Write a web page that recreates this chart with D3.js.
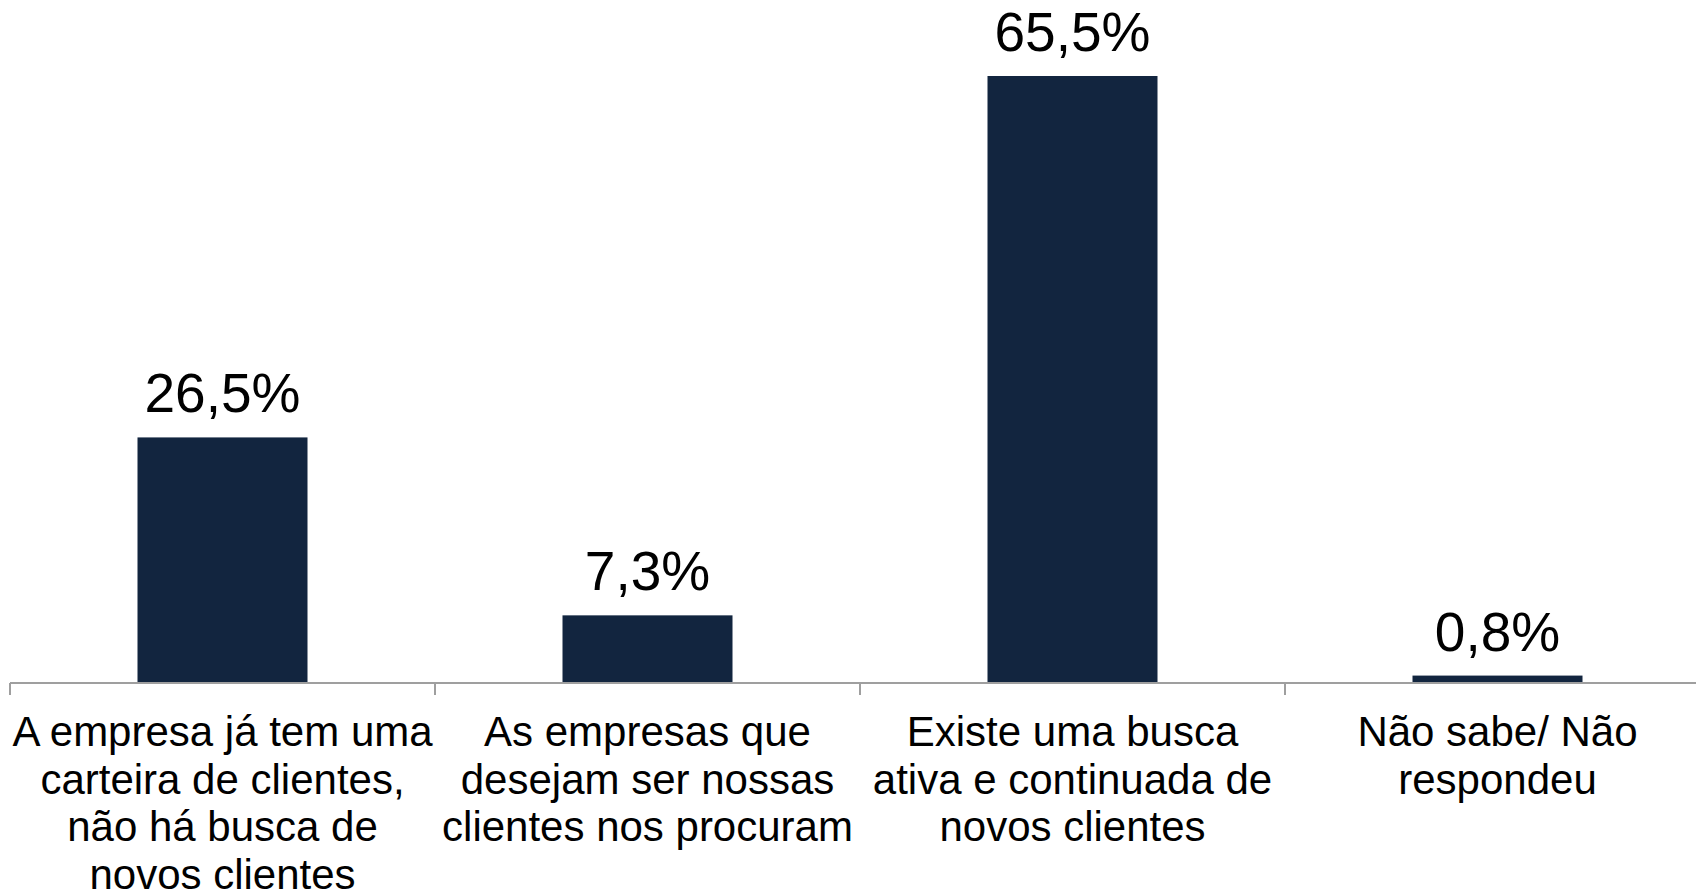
<!DOCTYPE html>
<html>
<head>
<meta charset="utf-8">
<script src="https://cdn.jsdelivr.net/npm/d3@7"></script>
<style>
  html, body { margin: 0; padding: 0; background: #fff; }
  svg { display: block; }
  text { font-family: "Liberation Sans", Arial, sans-serif; fill: #000; }
</style>
</head>
<body>
<svg id="chart" width="1696" height="891"></svg>
<script>
// Survey answers: how companies find new clients
const categories = [
  "A empresa já tem uma carteira de clientes, não há busca de novos clientes",
  "As empresas que desejam ser nossas clientes nos procuram",
  "Existe uma busca ativa e continuada de novos clientes",
  "Não sabe/ Não respondeu"
];
const categoryLines = [
  ["A empresa já tem uma", "carteira de clientes,", "não há busca de", "novos clientes"],
  ["As empresas que", "desejam ser nossas", "clientes nos procuram"],
  ["Existe uma busca", "ativa e continuada de", "novos clientes"],
  ["Não sabe/ Não", "respondeu"]
];
const values = [26.5, 7.3, 65.5, 0.8];
const valueLabels = ["26,5%", "7,3%", "65,5%", "0,8%"];

const svg = d3.select("#chart");
const baseY = 683;

const x = d3.scaleBand()
  .domain(categories)
  .range([10, 1710])
  .paddingInner(0)
  .paddingOuter(0);

const y = d3.scaleLinear()
  .domain([0, 65.5])
  .range([baseY, 76]);

const bw = x.bandwidth();
const barW = bw * 0.4;

// Bars
svg.append("g").selectAll("rect")
  .data(values)
  .join("rect")
  .attr("x", (d, i) => x(categories[i]) + (bw - barW) / 2)
  .attr("y", d => y(d))
  .attr("width", barW)
  .attr("height", d => y(0) - y(d))
  .attr("fill", "#12253f");

// Category axis: baseline with ticks at band boundaries
const axis = svg.append("g");
axis.append("line")
  .attr("x1", x.range()[0]).attr("x2", x.range()[1])
  .attr("y1", baseY).attr("y2", baseY)
  .attr("stroke", "#9f9f9f").attr("stroke-width", 2);
const boundaries = categories.map(c => x(c)).concat([x.range()[1]]);
axis.selectAll("line.tick")
  .data(boundaries)
  .join("line")
  .attr("class", "tick")
  .attr("x1", d => d).attr("x2", d => d)
  .attr("y1", baseY).attr("y2", baseY + 12)
  .attr("stroke", "#9f9f9f").attr("stroke-width", 2);

// Value labels above bars
svg.append("g").selectAll("text")
  .data(values)
  .join("text")
  .attr("x", (d, i) => x(categories[i]) + bw / 2)
  .attr("y", d => y(d) - 25)
  .attr("text-anchor", "middle")
  .attr("font-size", 55)
  .text((d, i) => valueLabels[i]);

// Category labels, wrapped
const catG = svg.append("g").selectAll("text")
  .data(categories)
  .join("text")
  .attr("x", d => x(d) + bw / 2)
  .attr("y", 746)
  .attr("text-anchor", "middle")
  .attr("font-size", 42);
catG.each(function(d, i) {
  const t = d3.select(this);
  categoryLines[i].forEach((line, j) => {
    t.append("tspan")
      .attr("x", x(d) + bw / 2)
      .attr("y", 746 + j * 47.5)
      .text(line);
  });
});
</script>
</body>
</html>
